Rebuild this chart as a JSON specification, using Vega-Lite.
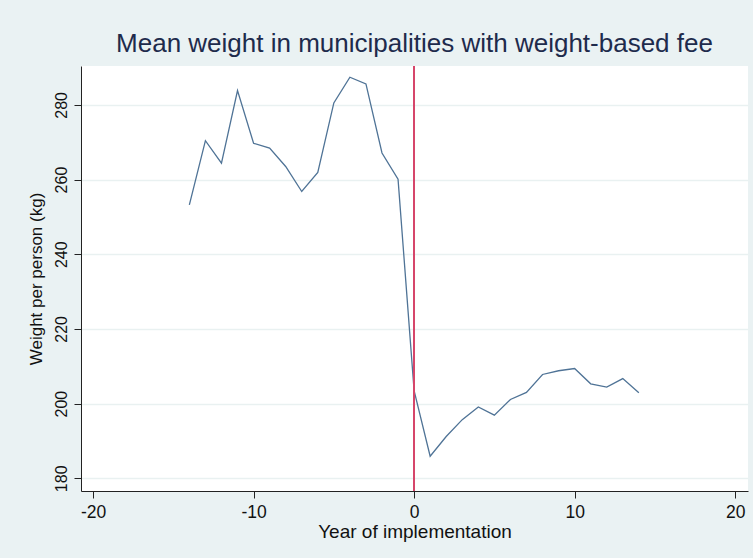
{
  "$schema": "https://vega.github.io/schema/vega-lite/v6.json",
  "width": 667,
  "height": 425,
  "autosize": {"type": "none"},
  "padding": {"left": 81, "top": 66, "right": 5, "bottom": 67},
  "background": "#eaf2f3",
  "config": {
    "view": {"fill": "white", "stroke": null},
    "font": "Liberation Sans",
    "axis": {"labelFont": "Liberation Sans", "titleFont": "Liberation Sans", "labelColor": "#111", "titleColor": "#111", "domainColor": "#222", "tickColor": "#222", "titleFontWeight": "normal", "tickSize": 7}
  },
  "title": {"text": "Mean weight in municipalities with weight-based fee", "fontSize": 26, "fontWeight": "normal", "color": "#1e2b4c", "font": "Liberation Sans", "anchor": "middle", "offset": 8},
  "data": {"values": [
    {"year": -14, "weight": 253.2},
    {"year": -13, "weight": 270.4},
    {"year": -12, "weight": 264.4},
    {"year": -11, "weight": 283.8},
    {"year": -10, "weight": 269.7},
    {"year": -9, "weight": 268.4},
    {"year": -8, "weight": 263.5},
    {"year": -7, "weight": 256.8},
    {"year": -6, "weight": 261.9},
    {"year": -5, "weight": 280.5},
    {"year": -4, "weight": 287.4},
    {"year": -3, "weight": 285.6},
    {"year": -2, "weight": 267.1},
    {"year": -1, "weight": 260.1},
    {"year": 0, "weight": 203.5},
    {"year": 1, "weight": 185.9},
    {"year": 2, "weight": 191.2},
    {"year": 3, "weight": 195.7},
    {"year": 4, "weight": 199.1},
    {"year": 5, "weight": 196.9},
    {"year": 6, "weight": 201.1},
    {"year": 7, "weight": 203.0},
    {"year": 8, "weight": 207.8},
    {"year": 9, "weight": 208.8},
    {"year": 10, "weight": 209.4},
    {"year": 11, "weight": 205.3},
    {"year": 12, "weight": 204.4},
    {"year": 13, "weight": 206.7},
    {"year": 14, "weight": 202.9}
  ]},
  "layer": [
    {
      "mark": {"type": "line", "color": "#4f7396", "strokeWidth": 1.3},
      "encoding": {
        "x": {"field": "year", "type": "quantitative", "scale": {"domain": [-20.75, 20.8], "nice": false, "zero": false}, "axis": {"values": [-20, -10, 0, 10, 20], "labelExpr": "'' + datum.value", "grid": false, "title": "Year of implementation", "labelFontSize": 17.5, "titleFontSize": 19, "titlePadding": 2, "labelPadding": 5}},
        "y": {"field": "weight", "type": "quantitative", "scale": {"domain": [176.6, 290.4], "nice": false, "zero": false}, "axis": {"values": [180, 200, 220, 240, 260, 280], "grid": true, "gridColor": "#e9f1f1", "gridWidth": 1.5, "title": "Weight per person (kg)", "labelFontSize": 16, "titleFontSize": 17, "labelAngle": -90, "labelAlign": "center", "labelBaseline": "bottom", "labelPadding": 5, "titlePadding": 8}}
      }
    },
    {
      "mark": {"type": "rule", "color": "#d6476b", "strokeWidth": 1.3},
      "encoding": {"x": {"datum": 0, "type": "quantitative"}}
    }
  ]
}
